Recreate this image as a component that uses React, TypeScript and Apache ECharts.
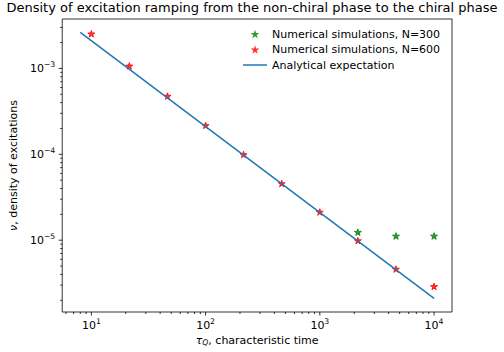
import React, { useEffect, useRef } from "react";
import * as echarts from "echarts";

// ---- data ----
const tauQ = [10, 21.5, 46.4, 100, 215, 464, 1000, 2154, 4642, 10000];
const densityN600 = [2.53e-3, 1.07e-3, 4.76e-4, 2.17e-4, 9.95e-5, 4.57e-5, 2.13e-5, 9.9e-6, 4.62e-6, 2.9e-6];
// the N=300 points are only visible where they separate from the N=600 ones
const tauQN300 = [2154, 4642, 10000];
const densityN300 = [1.24e-5, 1.12e-5, 1.12e-5];
const analyticalX = [8, 10000];
const analyticalY = [2.63e-3, 2.1e-6];

const xMajorTicks = [10, 100, 1000, 10000];
const yMajorTicks = [1e-5, 1e-4, 1e-3];

const X_MIN = 5.56;
const X_MAX = 14360;
const Y_MIN = 1.46e-6;
const Y_MAX = 3.76e-3;

const SERIES_N300 = "Numerical simulations, N=300";
const SERIES_N600 = "Numerical simulations, N=600";
const SERIES_LINE = "Analytical expectation";

const STAR =
  "path://M10,0 L7.755,6.91 L0.489,6.91 L6.367,11.18 L4.122,18.09 L10,13.82 L15.878,18.09 L13.633,11.18 L19.511,6.91 L12.245,6.91 Z";
const LINE_ICON = "path://M0,0 L24,0 L24,1.5 L0,1.5 Z";

function minorTicks(lo: number, hi: number): number[] {
  const out: number[] = [];
  for (let e = Math.floor(Math.log10(lo)); e <= Math.ceil(Math.log10(hi)); e++) {
    for (let m = 2; m <= 9; m++) {
      const v = m * Math.pow(10, e);
      if (v >= lo && v <= hi) out.push(v);
    }
  }
  return out;
}

const FONT = "DejaVu Sans";
const FS = 11;

function powLabel(v: number): string {
  const e = Math.log10(v);
  const r = Math.round(e);
  if (Math.abs(e - r) > 1e-6) return "";
  const s = r < 0 ? "\u2212" + Math.abs(r) : String(r);
  return "{b|10}{s|" + s + "}";
}

const labelRich = {
  b: { fontSize: FS, fontFamily: FONT, color: "#000" },
  s: { fontSize: 7.7, fontFamily: FONT, color: "#000", padding: [0, 0, 8, 0] },
};

export default function App() {
  const ref = useRef<HTMLDivElement>(null);
  useEffect(() => {
    if (!ref.current) return;
    const chart = echarts.init(ref.current, undefined, { renderer: "svg" });

    const xTickData = [
      ...xMajorTicks.map((v) => [v, Y_MIN, 3.5]),
      ...minorTicks(X_MIN, X_MAX).map((v) => [v, Y_MIN, 2]),
    ];
    const yTickData = [
      ...yMajorTicks.map((v) => [X_MIN, v, 3.5]),
      ...minorTicks(Y_MIN, Y_MAX).map((v) => [X_MIN, v, 2]),
    ];

    chart.setOption({
      animation: false,
      title: {
        text: "Density of excitation ramping from the non-chiral phase to the chiral phase",
        left: "center",
        top: 1,
        padding: 0,
        textStyle: { fontFamily: FONT, fontSize: 13, fontWeight: "normal", color: "#000" },
      },
      legend: {
        left: 243,
        top: 28.5,
        orient: "vertical",
        padding: 0,
        itemGap: 4.5,
        itemWidth: 24,
        itemHeight: 8.5,
        symbolKeepAspect: true,
        data: [
          { name: SERIES_N300, icon: STAR, itemStyle: { color: "#008000", borderWidth: 0 } },
          { name: SERIES_N600, icon: STAR, itemStyle: { color: "#ff0000", borderWidth: 0 } },
          { name: SERIES_LINE, icon: LINE_ICON },
        ],
        textStyle: { fontFamily: FONT, fontSize: FS, color: "#000" },
      },
      grid: {
        left: 60,
        right: 52,
        top: 19,
        bottom: 40,
        show: true,
        borderColor: "#000",
        borderWidth: 0.8,
        backgroundColor: "transparent",
      },
      xAxis: {
        type: "log",
        logBase: 10,
        min: X_MIN,
        max: X_MAX,
        name: "{t|\u03C4}{q|Q}{n|, characteristic time}",
        nameLocation: "middle",
        nameGap: 20,
        nameTextStyle: {
          rich: {
            t: { fontSize: FS, fontFamily: FONT, color: "#000", fontStyle: "italic" },
            q: { fontSize: 7.7, fontFamily: FONT, color: "#000", fontStyle: "italic", padding: [4, 0, 0, 0] },
            n: { fontSize: FS, fontFamily: FONT, color: "#000" },
          },
        },
        axisLine: { show: false },
        axisTick: { show: false },
        splitLine: { show: false },
        minorTick: { show: false },
        axisLabel: {
          margin: 5,
          formatter: (v: number) => powLabel(v),
          rich: labelRich,
          showMinLabel: false,
          showMaxLabel: false,
        },
      },
      yAxis: {
        type: "log",
        logBase: 10,
        min: Y_MIN,
        max: Y_MAX,
        name: "{i|\u03BD}{n|, density of excitations}",
        nameLocation: "middle",
        nameGap: 38,
        nameTextStyle: {
          rich: {
            i: { fontSize: FS, fontFamily: FONT, color: "#000", fontStyle: "italic" },
            n: { fontSize: FS, fontFamily: FONT, color: "#000" },
          },
        },
        axisLine: { show: false },
        axisTick: { show: false },
        splitLine: { show: false },
        minorTick: { show: false },
        axisLabel: {
          margin: 7,
          formatter: (v: number) => powLabel(v),
          rich: labelRich,
          showMinLabel: false,
          showMaxLabel: false,
        },
      },
      series: [
        {
          name: "xticks",
          type: "custom",
          silent: true,
          data: xTickData,
          encode: { x: 0, y: 1 },
          renderItem: (_p: any, api: any) => {
            const pt = api.coord([api.value(0), api.value(1)]);
            const len = api.value(2);
            return {
              type: "line",
              shape: { x1: pt[0], y1: pt[1], x2: pt[0], y2: pt[1] + len },
              style: { stroke: "#000", lineWidth: 0.8 },
            };
          },
        },
        {
          name: "yticks",
          type: "custom",
          silent: true,
          data: yTickData,
          encode: { x: 0, y: 1 },
          renderItem: (_p: any, api: any) => {
            const pt = api.coord([api.value(0), api.value(1)]);
            const len = api.value(2);
            return {
              type: "line",
              shape: { x1: pt[0], y1: pt[1], x2: pt[0] - len, y2: pt[1] },
              style: { stroke: "#000", lineWidth: 0.8 },
            };
          },
        },
        {
          name: SERIES_N300,
          type: "scatter",
          symbol: STAR,
          symbolSize: 7,
          symbolKeepAspect: true,
          itemStyle: { color: "#008000", borderColor: "#008000", borderWidth: 1 },
          data: tauQN300.map((x, i) => [x, densityN300[i]]),
          z: 3,
        },
        {
          name: SERIES_N600,
          type: "scatter",
          symbol: STAR,
          symbolSize: 7,
          symbolKeepAspect: true,
          itemStyle: { color: "#ff0000", borderColor: "#ff0000", borderWidth: 1 },
          data: tauQ.map((x, i) => [x, densityN600[i]]),
          z: 4,
        },
        {
          name: SERIES_LINE,
          type: "line",
          symbol: "none",
          showSymbol: false,
          lineStyle: { color: "#1f77b4", width: 1.5 },
          itemStyle: { color: "#1f77b4" },
          data: analyticalX.map((x, i) => [x, analyticalY[i]]),
          z: 5,
        },
      ],
    });
    return () => chart.dispose();
  }, []);

  return (
    <div
      ref={ref}
      style={{ position: "fixed", left: 0, top: 0, width: 504, height: 352, background: "#fff" }}
    />
  );
}
